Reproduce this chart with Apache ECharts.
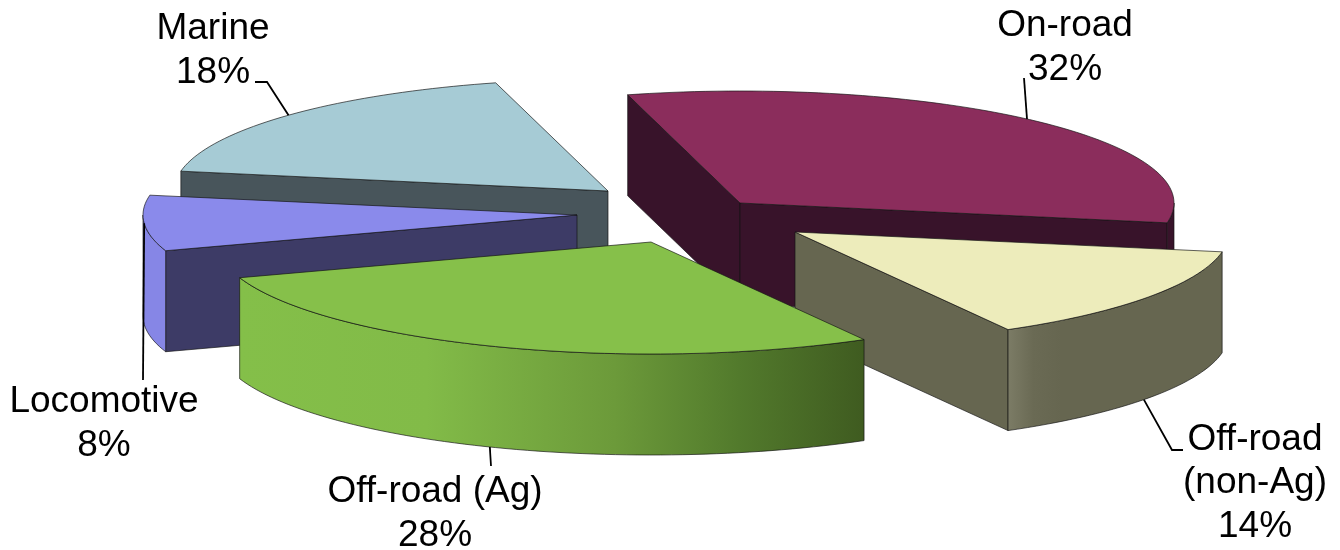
<!DOCTYPE html>
<html>
<head>
<meta charset="utf-8">
<style>html,body{margin:0;padding:0;background:#fff}#c{width:1340px;height:550px}</style>
<script src="https://cdn.jsdelivr.net/npm/echarts@6/dist/echarts.min.js"></script>
</head>
<body>
<div id="c"></div>
<script>
// Data
const categories = ['On-road', 'Off-road\n(non-Ag)', 'Off-road (Ag)', 'Locomotive', 'Marine'];
const shares = [32, 14, 28, 8, 18];

// Styles
const topColors  = ['#8B2D5C', '#EDECBB', '#86C04A', '#8A8AEB', '#A6CBD5'];
const sideColors = ['#38132A', '#666650', '#86C04A', '#3D3B66', '#48555B'];
const wallStops = [
  [[0, '#38132A'], [1, '#38132A']],
  [[0, '#7C7C66'], [0.12, '#6A6A54'], [0.25, '#666650'], [1, '#666650']],
  [[0, '#84BF49'], [0.3, '#82BB48'], [0.6, '#6C9A3A'], [0.8, '#527A2C'], [1, '#3F5B20']],
  [[0, '#8686E6'], [1, '#8686E6']],
  [[0, '#48555B'], [1, '#48555B']]
];
const paintOrder = [1, 3, 4, 2, 0];   // rank per slice: back to front

// Layout
const centre = [680, 225];
const radiusX = 434, radiusY = 112, depth = 101, startDeg = -15;
const explode = [[60, -22], [115, 7], [-29, 17], [-103, -10], [-72, -34]];
const labelAt = [[1065, 48], [1255, 483], [435, 514], [104, 424], [213, 51]];
const leaderShift = [-1.2, 1.1, 0.8, 0, 0];
const leaderFromBase = [false, true, true, false, false];
const leaderTail = [
  [[1024, 78]],
  [[1172, 450], [1183, 450]],
  [[491, 466]],
  [[143, 380]],
  [[267, 82], [255, 82]]
];

const total = shares.reduce((a, b) => a + b, 0);
const spans = [];
shares.reduce((acc, v) => { spans.push([acc, acc + v / total * 360]); return acc + v / total * 360; }, startDeg);

function onRim(apex, deg, drop) {
  const t = deg * Math.PI / 180;
  return [apex[0] + radiusX * Math.sin(t), apex[1] - radiusY * Math.cos(t) + (drop || 0)];
}
function arc(apex, from, to, drop) {
  const n = Math.max(2, Math.ceil(Math.abs(to - from) / 1.5));
  const out = [];
  for (let k = 0; k <= n; k++) out.push(onRim(apex, from + (to - from) * k / n, drop));
  return out;
}
const edge = { stroke: 'rgba(20,20,20,0.75)', lineWidth: 0.9, lineJoin: 'round' };

function renderSlice(params) {
  const i = params.dataIndex;
  const [a0, a1] = spans[i];
  const apex = [centre[0] + explode[i][0], centre[1] + explode[i][1]];
  const rank = paintOrder[i] * 10;
  const kids = [];
  const mid = onRim(apex, (a0 + a1) / 2);

  // radial faces, only when the slice's top lies above that edge
  [a0, a1].forEach(function (deg) {
    const p = onRim(apex, deg);
    const ex = p[0] - apex[0], ey = p[1] - apex[1];
    const lineY = apex[1] + ey / ex * (mid[0] - apex[0]);
    if (mid[1] < lineY) {
      kids.push({
        type: 'polygon', z2: rank + 1,
        shape: { points: [apex, p, [p[0], p[1] + depth], [apex[0], apex[1] + depth]] },
        style: Object.assign({ fill: sideColors[i] }, edge)
      });
    }
  });

  // curved outer wall: the part of the rim that faces the viewer
  const w0 = Math.max(a0, 90), w1 = Math.min(a1, 270);
  if (w1 > w0) {
    const pts = arc(apex, w0, w1, 0).concat(arc(apex, w1, w0, depth));
    kids.push({
      type: 'polygon', z2: rank + 2,
      shape: { points: pts },
      style: Object.assign({
        fill: new echarts.graphic.LinearGradient(0, 0, 1, 0,
          wallStops[i].map(s => ({ offset: s[0], color: s[1] })))
      }, edge)
    });
  }

  // top face
  kids.push({
    type: 'polygon', z2: rank + 3,
    shape: { points: [apex].concat(arc(apex, a0, a1, 0)) },
    style: Object.assign({ fill: topColors[i] }, edge)
  });

  // leader line, from the slice's middle angle to its label
  const start = onRim(apex, (a0 + a1) / 2 + leaderShift[i], leaderFromBase[i] ? depth : 0);
  kids.push({
    type: 'polyline', z2: 100,
    shape: { points: [start].concat(leaderTail[i]) },
    style: { fill: 'none', stroke: '#000', lineWidth: 1.8 }
  });

  // label
  kids.push({
    type: 'text', z2: 101,
    x: labelAt[i][0], y: labelAt[i][1],
    style: {
      text: categories[i] + '\n' + shares[i] + '%',
      fontFamily: '"Liberation Sans", Arial, sans-serif',
      fontSize: 37, lineHeight: 43.5,
      fill: '#000', align: 'center', verticalAlign: 'middle'
    }
  });
  return { type: 'group', children: kids };
}

const chart = echarts.init(document.getElementById('c'), null, { renderer: 'canvas' });
chart.setOption({
  animation: false,
  backgroundColor: '#fff',
  series: [{
    type: 'custom',
    coordinateSystem: 'none',
    silent: true,
    renderItem: renderSlice,
    data: shares.map((v, i) => ({ name: categories[i], value: [i, v] }))
  }]
});
</script>
</body>
</html>
